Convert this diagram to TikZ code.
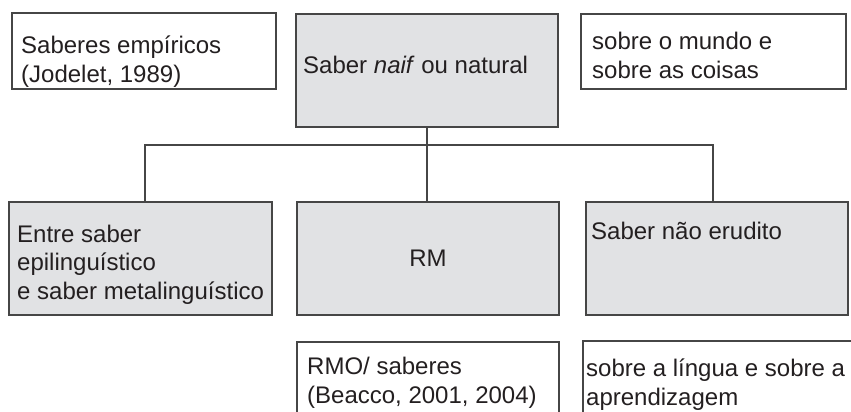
\documentclass[tikz,border=0pt]{standalone}
\usepackage{fontspec}
\setmainfont{Liberation Sans}
\usepackage{xcolor}
\usepackage{tikz}
\usetikzlibrary{positioning}
\definecolor{boxgray}{RGB}{225,226,228}
\definecolor{linegray}{RGB}{70,70,70}
\definecolor{textgray}{RGB}{35,31,32}
\tikzset{
     plainbox/.style={
           rectangle,
           draw=linegray, line width=1.1pt,
           anchor=north west,
           inner sep=0pt,
           outer sep=0pt,
           },
     graybox/.style={
           plainbox,
           fill=boxgray,
           },
     boxtext/.style={
           anchor=base west,
           align=left,
           inner sep=0pt,
           text=textgray,
           font=\fontsize{24}{28.5}\selectfont,
           },
}

\begin{document}
\begin{tikzpicture}[x=1pt,y=-1pt]
	\clip (0,0) rectangle (851,412);
	% upper row
	\node[plainbox, minimum width=264, minimum height=76] (emp) at (12,13) {};
	\node[graybox, minimum width=262, minimum height=113] (naif) at (296,14) {};
	\node[plainbox, minimum width=265, minimum height=75] (mundo) at (581,14) {};
	% middle row
	\node[graybox, minimum width=263, minimum height=113] (entre) at (9,202) {};
	\node[graybox, minimum width=262, minimum height=113] (rm) at (297,202) {};
	\node[graybox, minimum width=262, minimum height=113] (erud) at (586,202) {};
	% lower row
	\node[plainbox, minimum width=262, minimum height=100] (rmo) at (297,342) {};
	\node[plainbox, minimum width=300, minimum height=100] (lingua) at (583,341) {};

	% texts (base = last line)
	\node[boxtext] (empt) at (21,82) {Saberes empíricos\\(Jodelet, 1989)};
	\node[boxtext] (naift) at (303,74) {Saber \textit{naif} ou natural};
	\node[boxtext] (mundot) at (592,78) {sobre o mundo e\\sobre as coisas};
	\node[boxtext] (entret) at (17,299) {Entre saber\\epilinguístico\\e saber metalinguístico};
	\node[boxtext, anchor=base] (rmt) at (428,266) {RM};
	\node[boxtext] (erudt) at (591,239) {Saber não erudito};
	\node[boxtext] (rmot) at (307,403) {RMO/ saberes\\(Beacco, 2001, 2004)};
	\node[boxtext] (linguat) at (586,405) {sobre a língua e sobre a\\aprendizagem};

	% connectors
	\coordinate (jl) at (145,145);
	\coordinate (jr) at (713,145);
	\draw[linegray, line width=1.1pt] (naif.south) -- (naif.south |- rm.north);
	\draw[linegray, line width=1.1pt] (jl |- entre.north) -- (jl) -- (jr) -- (jr |- erud.north);
\end{tikzpicture}
\end{document}
